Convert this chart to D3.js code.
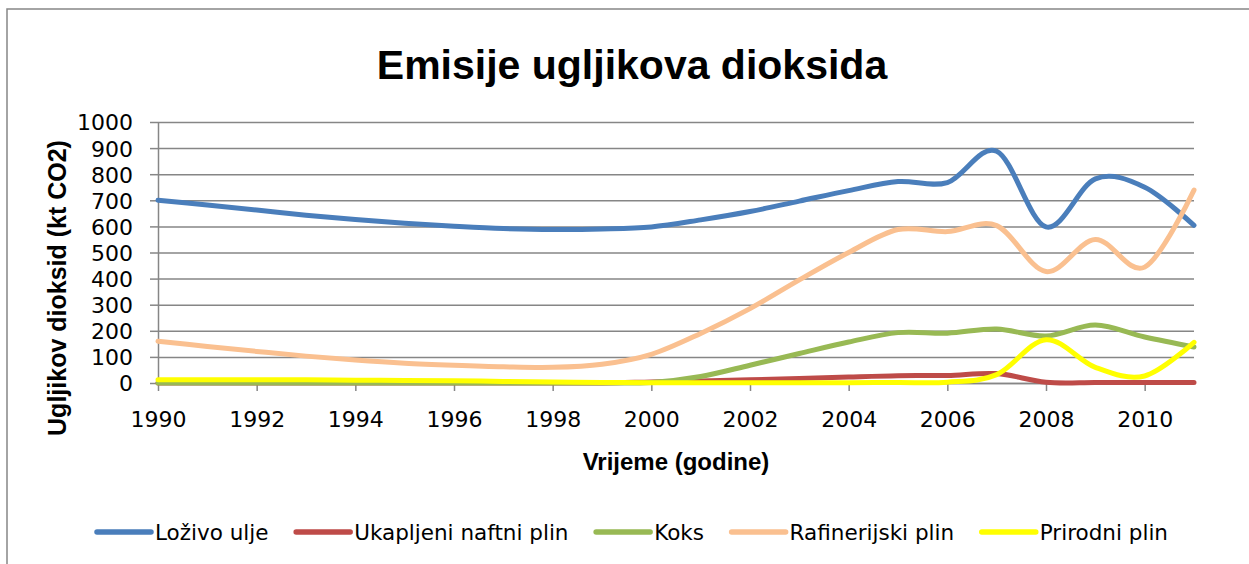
<!DOCTYPE html>
<html>
<head>
<meta charset="utf-8">
<script src="https://cdnjs.cloudflare.com/ajax/libs/d3/7.8.5/d3.min.js"></script>
<style>
  body { margin: 0; background: #fff; }
  .grid line { stroke: #868686; stroke-width: 1.5; }
  .grid path { display: none; }
  .axis path, .axis line { stroke: #868686; stroke-width: 1.5; }
  .axis text { font-family: "DejaVu Sans", sans-serif; font-size: 22px; fill: #000; }
  .series { fill: none; stroke-width: 5; stroke-linejoin: round; stroke-linecap: round; }
</style>
</head>
<body>
<div id="chart"></div>
<script>

// years on the x axis
var years = [1990, 1991, 1992, 1993, 1994, 1995, 1996, 1997, 1998, 1999, 2000,
             2001, 2002, 2003, 2004, 2005, 2006, 2007, 2008, 2009, 2010, 2011];

// series values (kt CO2)
var lozivoUlje = [700, 682, 663, 643, 626, 612, 601, 592, 588, 590, 598,
                  625, 657, 697, 737, 772, 768, 888, 598, 782, 750, 604];
var ukapljeniPlin = [0, 0, 0, 0, 0, 0, 0, 0, 0, 0, 4,
                     8, 12, 17, 23, 28, 29, 36, 3, 2, 2, 2];
var koks = [0, 0, 0, 0, 0, 0, 0, 0, 0, 0, 2,
            25, 68, 113, 157, 193, 191, 207, 180, 222, 176, 138];
var rafinerijskiPlin = [160, 140, 121, 103, 88, 76, 68, 62, 60, 72, 110,
                        190, 285, 395, 500, 588, 580, 603, 427, 550, 444, 739];
var prirodniPlin = [12, 12, 12, 12, 11, 10, 9, 6, 4, 2, 1,
                    1, 1, 1, 1, 2, 3, 32, 166, 60, 27, 156];

var seriesNames = ["Loživo ulje", "Ukapljeni naftni plin", "Koks", "Rafinerijski plin", "Prirodni plin"];
var seriesColors = ["#4A7EBB", "#BE4B48", "#98B954", "#FAC090", "#FFFF00"];

var yTicks = [0, 100, 200, 300, 400, 500, 600, 700, 800, 900, 1000];
var xTicks = [1990, 1992, 1994, 1996, 1998, 2000, 2002, 2004, 2006, 2008, 2010];

var allSeries = [lozivoUlje, ukapljeniPlin, koks, rafinerijskiPlin, prirodniPlin];

// set the dimensions and margins of the graph
var W = 1249, H = 564;
var margin = {top: 122, right: 55, bottom: 181, left: 158},
    width = W - margin.left - margin.right,
    height = H - margin.top - margin.bottom;

var svg0 = d3.select("#chart").append("svg")
    .attr("width", W)
    .attr("height", H);

// outer chart border (only top and left are inside the picture)
svg0.append("path")
    .attr("d", "M7,564 L7,9 L1249,9")
    .attr("fill", "none")
    .attr("stroke", "#878787")
    .attr("stroke-width", 1.5);

var svg = svg0.append("g")
    .attr("transform", "translate(" + margin.left + "," + margin.top + ")");

var x = d3.scaleLinear().domain([1990, 2011]).range([0, width]);
var y = d3.scaleLinear().domain([0, 1000]).range([height, 0]);

// horizontal gridlines
svg.append("g")
    .attr("class", "grid")
    .call(d3.axisLeft(y).tickValues(yTicks).tickSize(-width).tickFormat(""));

// y axis
var yAxis = svg.append("g")
    .attr("class", "axis")
    .call(d3.axisLeft(y).tickValues(yTicks).tickSize(8).tickSizeOuter(0)
      .tickFormat(d3.format("d")).tickPadding(17));
yAxis.selectAll("text").attr("dy", "0.36em");

// x axis
var xAxis = svg.append("g")
    .attr("class", "axis")
    .attr("transform", "translate(0," + height + ")")
    .call(d3.axisBottom(x).tickValues(xTicks).tickSize(8).tickSizeOuter(0)
      .tickFormat(d3.format("d")).tickPadding(20));
xAxis.selectAll("text").attr("dy", "0.71em");

// the lines, Excel-like smoothing
var line = d3.line()
    .x(function(d) { return x(d[0]); })
    .y(function(d) { return y(d[1]); })
    .curve(d3.curveCardinal.tension(0));

allSeries.forEach(function(vals, i) {
  svg.append("path")
      .datum(years.map(function(yr, j) { return [yr, vals[j]]; }))
      .attr("class", "series")
      .attr("stroke", seriesColors[i])
      .attr("d", line);
});

// title
svg0.append("text")
    .attr("x", 632)
    .attr("y", 79)
    .attr("text-anchor", "middle")
    .style("font-family", "'Liberation Sans', Arial, sans-serif")
    .style("font-weight", "bold")
    .style("font-size", "41px")
    .text("Emisije ugljikova dioksida");

// axis titles
svg0.append("text")
    .attr("transform", "translate(66,288) rotate(-90)")
    .attr("text-anchor", "middle")
    .style("font-family", "'Liberation Sans', Arial, sans-serif")
    .style("font-weight", "bold")
    .style("font-size", "25px")
    .text("Ugljikov dioksid (kt CO2)");

svg0.append("text")
    .attr("x", margin.left + width / 2)
    .attr("y", 470)
    .attr("text-anchor", "middle")
    .style("font-family", "'Liberation Sans', Arial, sans-serif")
    .style("font-weight", "bold")
    .style("font-size", "24px")
    .text("Vrijeme (godine)");

// legend at the bottom
var legend = svg0.append("g").attr("transform", "translate(0,532)");
var items = legend.selectAll(".item")
    .data(seriesNames)
  .enter().append("g")
    .attr("class", "item");

items.append("line")
    .attr("x1", 0).attr("x2", 54)
    .attr("stroke", function(d, i) { return seriesColors[i]; })
    .attr("stroke-width", 5.5)
    .attr("stroke-linecap", "round");

items.append("text")
    .attr("x", 58)
    .attr("dy", "0.36em")
    .style("font-family", "'DejaVu Sans', sans-serif")
    .style("font-size", "21.5px")
    .text(function(d) { return d; });

// place items one after another so they span the same width as the original
var widths = [];
items.each(function() { widths.push(this.getBBox().width); });
var left = 97, right = 1168;
var gap = (right - left - d3.sum(widths)) / (widths.length - 1);
var cx = left;
items.attr("transform", function(d, i) {
  var tx = cx;
  cx += widths[i] + gap;
  return "translate(" + tx + ",0)";
});

</script>
</body>
</html>
